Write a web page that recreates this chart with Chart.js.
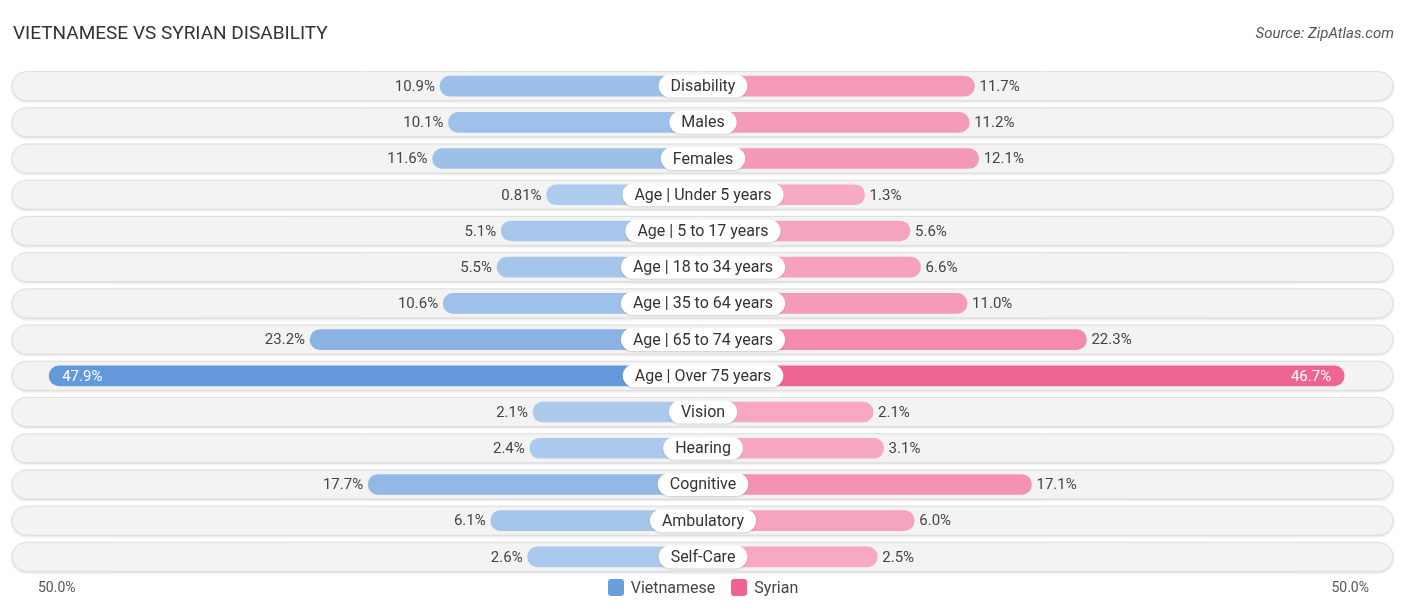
<!DOCTYPE html>
<html>
<head>
<meta charset="utf-8">
<script src="https://cdn.jsdelivr.net/npm/chart.js@4.4.1/dist/chart.umd.min.js"></script>
<style>
  body { margin: 0; background: #fff; font-family: Roboto, sans-serif; }
  #wrap { position: relative; width: 1406px; height: 612px; }
  #chart { position: absolute; left: 0; top: 0; }
  .title { position: absolute; left: 13px; top: 21px; font-size: 19px; color: #333; }
  .source { position: absolute; right: 12px; top: 24px; font-size: 15px; color: #555; font-style: italic; }
  .legend { position: absolute; top: 578px; left: 0; width: 1406px; text-align: center; font-size: 16px; color: #444; }
  .legend span.item { display: inline-flex; align-items: center; margin: 0 8px; }
  .legend span.sw { width: 16px; height: 17px; border-radius: 3px; display: inline-block; margin-right: 7px; }
  .axislab { position: absolute; top: 579px; font-size: 14px; color: #555; }
</style>
</head>
<body>
<div id="wrap">
  <canvas id="chart" width="1406" height="612"></canvas>
  <div class="title">VIETNAMESE VS SYRIAN DISABILITY</div>
  <div class="source">Source: ZipAtlas.com</div>
  <div class="legend" id="legend"></div>
  <div class="axislab" id="tickLeft" style="left:38px"></div>
  <div class="axislab" id="tickRight" style="right:37px"></div>
</div>
<script>
// Data
const categories = ['Disability', 'Males', 'Females', 'Age | Under 5 years', 'Age | 5 to 17 years',
    'Age | 18 to 34 years', 'Age | 35 to 64 years', 'Age | 65 to 74 years', 'Age | Over 75 years',
    'Vision', 'Hearing', 'Cognitive', 'Ambulatory', 'Self-Care'];
const vietnamese = [10.9, 10.1, 11.6, 0.81, 5.1, 5.5, 10.6, 23.2, 47.9, 2.1, 2.4, 17.7, 6.1, 2.6];
const syrian = [11.7, 11.2, 12.1, 1.3, 5.6, 6.6, 11.0, 22.3, 46.7, 2.1, 3.1, 17.1, 6.0, 2.5];
const seriesNames = ['Vietnamese', 'Syrian'];
const tickLabels = ['50.0%', '50.0%'];

const axisMax = 50;
const centerGap = 14; // bars start behind the centre label

// barvy: svetlejsi pro male hodnoty, tmavsi pro velke
function mix(c1, c2, t) {
    const r = Math.round(c1[0] + (c2[0] - c1[0]) * t);
    const g = Math.round(c1[1] + (c2[1] - c1[1]) * t);
    const b = Math.round(c1[2] + (c2[2] - c1[2]) * t);
    return `rgb(${r},${g},${b})`;
}
const maxVal = Math.max(...vietnamese, ...syrian);
const blueColors = vietnamese.map(v => mix([174, 204, 237], [99, 153, 218], v / maxVal));
const pinkColors = syrian.map(v => mix([247, 172, 198], [240, 98, 146], v / maxVal));

function fmt(v) {
    return (v < 1 ? v.toFixed(2) : v.toFixed(1)) + '%';
}

function roundRect(ctx, x, y, w, h, r) {
    ctx.beginPath();
    ctx.moveTo(x + r, y);
    ctx.lineTo(x + w - r, y);
    ctx.arc(x + w - r, y + r, r, -Math.PI / 2, Math.PI / 2);
    ctx.lineTo(x + r, y + h);
    ctx.arc(x + r, y + r, r, Math.PI / 2, Math.PI * 1.5);
    ctx.closePath();
}

// pozadi radku
const rowBackground = {
    id: 'rowBackground',
    beforeDatasetsDraw(chart) {
        const ctx = chart.ctx;
        const yScale = chart.scales.y;
        ctx.save();
        categories.forEach((c, i) => {
            const y = yScale.getPixelForValue(i);
            const h = 29;
            ctx.shadowColor = 'rgba(0,0,0,0.18)';
            ctx.shadowBlur = 3;
            ctx.shadowOffsetY = 1;
            roundRect(ctx, 12, y - h / 2, 1381, h, h / 2);
            ctx.fillStyle = '#f3f3f3';
            ctx.fill();
            ctx.shadowColor = 'transparent';
            ctx.strokeStyle = '#dedede';
            ctx.lineWidth = 1;
            ctx.stroke();
        });
        ctx.restore();
    }
};

// popisky hodnot a kategorii
const labelsPlugin = {
    id: 'labelsPlugin',
    afterDatasetsDraw(chart) {
        const ctx = chart.ctx;
        const xScale = chart.scales.x;
        const yScale = chart.scales.y;
        const cx = xScale.getPixelForValue(0);
        ctx.save();
        ctx.textBaseline = 'middle';
        categories.forEach((c, i) => {
            const y = yScale.getPixelForValue(i);
            // levá hodnota
            const lx = xScale.getPixelForValue(-(centerGap + vietnamese[i]));
            ctx.font = '15px Roboto';
            if (vietnamese[i] > 40) {
                ctx.fillStyle = '#fff';
                ctx.textAlign = 'left';
                ctx.fillText(fmt(vietnamese[i]), lx + 13, y + 1);
            } else {
                ctx.fillStyle = '#444';
                ctx.textAlign = 'right';
                ctx.fillText(fmt(vietnamese[i]), lx - 5, y + 1);
            }
            // pravá hodnota
            const rx = xScale.getPixelForValue(centerGap + syrian[i]);
            if (syrian[i] > 40) {
                ctx.fillStyle = '#fff';
                ctx.textAlign = 'right';
                ctx.fillText(fmt(syrian[i]), rx - 13, y + 1);
            } else {
                ctx.fillStyle = '#444';
                ctx.textAlign = 'left';
                ctx.fillText(fmt(syrian[i]), rx + 5, y + 1);
            }
            // stredovy stitek
            ctx.font = '16px Roboto';
            const w = ctx.measureText(c).width + 24;
            const h = 23;
            ctx.shadowColor = 'rgba(0,0,0,0.15)';
            ctx.shadowBlur = 2;
            ctx.shadowOffsetY = 1;
            roundRect(ctx, cx - w / 2, y - h / 2, w, h, h / 2);
            ctx.fillStyle = '#fff';
            ctx.fill();
            ctx.shadowColor = 'transparent';
            ctx.fillStyle = '#333';
            ctx.textAlign = 'center';
            ctx.fillText(c, cx, y + 1);
        });
        ctx.restore();
    }
};

const ctx = document.getElementById('chart').getContext('2d');
new Chart(ctx, {
    type: 'bar',
    data: {
        labels: categories,
        datasets: [
            {
                label: seriesNames[0],
                data: vietnamese.map(v => [-(centerGap + v), 0]),
                backgroundColor: blueColors,
                borderRadius: 10,
                borderSkipped: false,
                barThickness: 20,
                grouped: false
            },
            {
                label: seriesNames[1],
                data: syrian.map(v => [0, centerGap + v]),
                backgroundColor: pinkColors,
                borderRadius: 10,
                borderSkipped: false,
                barThickness: 20,
                grouped: false
            }
        ]
    },
    options: {
        indexAxis: 'y',
        responsive: false,
        animation: false,
        layout: { padding: { left: 27, right: 27, top: 68, bottom: 37 } },
        plugins: {
            legend: { display: false },
            tooltip: { enabled: false }
        },
        scales: {
            x: { display: false, min: -(centerGap + axisMax), max: centerGap + axisMax },
            y: { display: false }
        }
    },
    plugins: [rowBackground, labelsPlugin]
});

// legenda a krajni popisky
document.getElementById('legend').innerHTML =
    `<span class="item"><span class="sw" style="background:#6a9fdc"></span>${seriesNames[0]}</span>` +
    `<span class="item"><span class="sw" style="background:#f06292"></span>${seriesNames[1]}</span>`;
document.getElementById('tickLeft').textContent = tickLabels[0];
document.getElementById('tickRight').textContent = tickLabels[1];
</script>
</body>
</html>
